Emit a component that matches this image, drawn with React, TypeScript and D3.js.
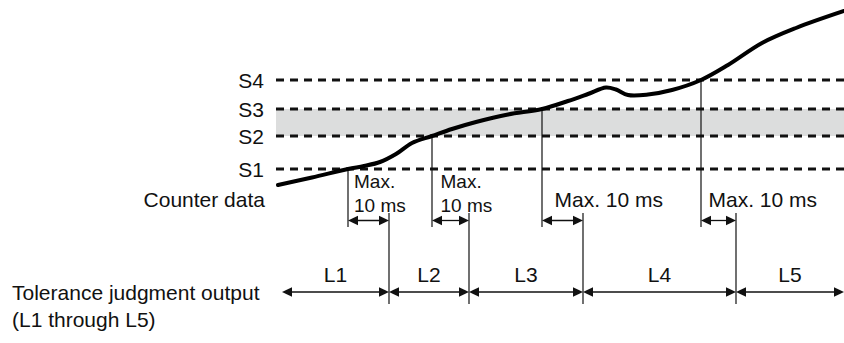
import React from "react";
import * as d3 from "d3";

// ---- data ----
const thresholdLabels = ["S1", "S2", "S3", "S4"];
const thresholdValues = [31, 64, 91, 120];
const bandRange = [64, 91]; // S2..S3 tolerance band

// counter data curve: time (ms) vs counter value
const curveTime = [0.5, 9, 18, 22, 26, 30, 34, 39, 44, 50, 58, 66.5, 73, 78, 82.5, 85, 88, 93, 99, 106.25, 113, 121.5, 130, 142];
const curveCount = [15, 22.5, 31, 34, 38, 46, 57, 64, 71, 78, 85.5, 91, 99, 106, 112.5, 110.5, 105, 105.5, 110, 120, 135, 157, 172, 189];

// threshold crossing times and corresponding output switch times (max 10 ms later)
const crossTimes = [18, 39, 66.5, 106.25];
const outputTimes = [28.25, 48.25, 76.75, 115];
const outputStart = 1.5;
const outputEnd = 142;
const outputLabels = ["L1", "L2", "L3", "L4", "L5"];
const delayLabels = [["Max.", "10 ms"], ["Max.", "10 ms"], ["Max. 10 ms"], ["Max. 10 ms"]];
const rowLabelCounter = "Counter data";
const rowLabelOutput = ["Tolerance judgment output", "(L1 through L5)"];

// ---- layout ----
const W = 844;
const H = 343;
const FONT = "'Liberation Sans', Arial, Helvetica, sans-serif";
const x = d3.scaleLinear().domain([0, 142]).range([276, 844]);
const y = d3.scaleLinear().domain([0, 200]).range([200, 0]);
const crossBottom = 227;
const delayArrowY = 220.5;
const outTop = 213;
const outBottom = 304;
const outArrowY = 292;
const delayDx = [6, 8.5, 12.5, 7.5];

function head(tipX: number, yy: number, dir: number, len = 10, half = 4.8) {
  return `${tipX},${yy} ${tipX - dir * len},${yy - half} ${tipX - dir * len},${yy + half}`;
}

function DoubleArrow({ x1, x2, yy }: { x1: number; x2: number; yy: number }) {
  return (
    <g>
      <line x1={x1 + 4} x2={x2 - 4} y1={yy} y2={yy} stroke="#111" strokeWidth={1.3} />
      <polygon points={head(x1, yy, -1)} fill="#111" />
      <polygon points={head(x2, yy, 1)} fill="#111" />
    </g>
  );
}

export default function App() {
  const line = d3
    .line<number>()
    .x((_, i) => x(curveTime[i]))
    .y((d) => y(d))
    .curve(d3.curveCatmullRom.alpha(0.5));
  const path = line(curveCount) || "";
  const boundaries = [outputStart, ...outputTimes, outputEnd];

  return (
    <svg
      width={W}
      height={H}
      style={{ position: "absolute", left: 0, top: 0, background: "#fff" }}
      fontFamily={FONT}
    >
      <rect x={0} y={0} width={W} height={H} fill="#fff" />
      {/* tolerance band */}
      <rect
        x={x(0)}
        y={y(bandRange[1])}
        width={x(142) - x(0)}
        height={y(bandRange[0]) - y(bandRange[1])}
        fill="#dcdddd"
      />
      {/* threshold dashed lines */}
      {thresholdValues.map((v, i) => (
        <g key={"th" + i}>
          <line
            x1={x(0)}
            x2={W}
            y1={y(v)}
            y2={y(v)}
            stroke="#111"
            strokeWidth={2.8}
            strokeDasharray="8 6"
          />
          <text x={264} y={y(v) + 7.5} fontSize={21} textAnchor="end" fill="#111">
            {thresholdLabels[i]}
          </text>
        </g>
      ))}
      <text x={265} y={207} fontSize={21} textAnchor="end" fill="#111">
        {rowLabelCounter}
      </text>

      {/* crossing verticals */}
      {crossTimes.map((t, i) => (
        <line
          key={"cv" + i}
          x1={x(t)}
          x2={x(t)}
          y1={y(thresholdValues[i])}
          y2={crossBottom}
          stroke="#111"
          strokeWidth={1.2}
        />
      ))}
      {/* output verticals */}
      {outputTimes.map((t, i) => (
        <line key={"ov" + i} x1={x(t)} x2={x(t)} y1={outTop} y2={outBottom} stroke="#111" strokeWidth={1.2} />
      ))}

      {/* curve */}
      <path d={path} fill="none" stroke="#000" strokeWidth={4} strokeLinecap="round" />

      {/* delay arrows and labels */}
      {crossTimes.map((t, i) => (
        <g key={"da" + i}>
          <DoubleArrow x1={x(t)} x2={x(outputTimes[i])} yy={delayArrowY} />
          {delayLabels[i].length === 2 ? (
            <text x={x(t) + delayDx[i]} fontSize={19} fill="#111">
              <tspan x={x(t) + delayDx[i]} y={188}>
                {delayLabels[i][0]}
              </tspan>
              <tspan x={x(t) + delayDx[i]} y={212}>
                {delayLabels[i][1]}
              </tspan>
            </text>
          ) : (
            <text x={x(t) + delayDx[i]} y={207} fontSize={21} fill="#111">
              {delayLabels[i][0]}
            </text>
          )}
        </g>
      ))}

      {/* output segments */}
      {outputLabels.map((lab, i) => {
        const a = x(boundaries[i]);
        const b = x(boundaries[i + 1]);
        return (
          <g key={"seg" + i}>
            <DoubleArrow x1={a} x2={b} yy={outArrowY} />
            <text x={(a + b) / 2} y={282} fontSize={21} textAnchor="middle" fill="#111">
              {lab}
            </text>
          </g>
        );
      })}
      <text x={12} y={300} fontSize={21} fill="#111">
        {rowLabelOutput[0]}
      </text>
      <text x={12} y={327} fontSize={21} fill="#111">
        {rowLabelOutput[1]}
      </text>
    </svg>
  );
}
